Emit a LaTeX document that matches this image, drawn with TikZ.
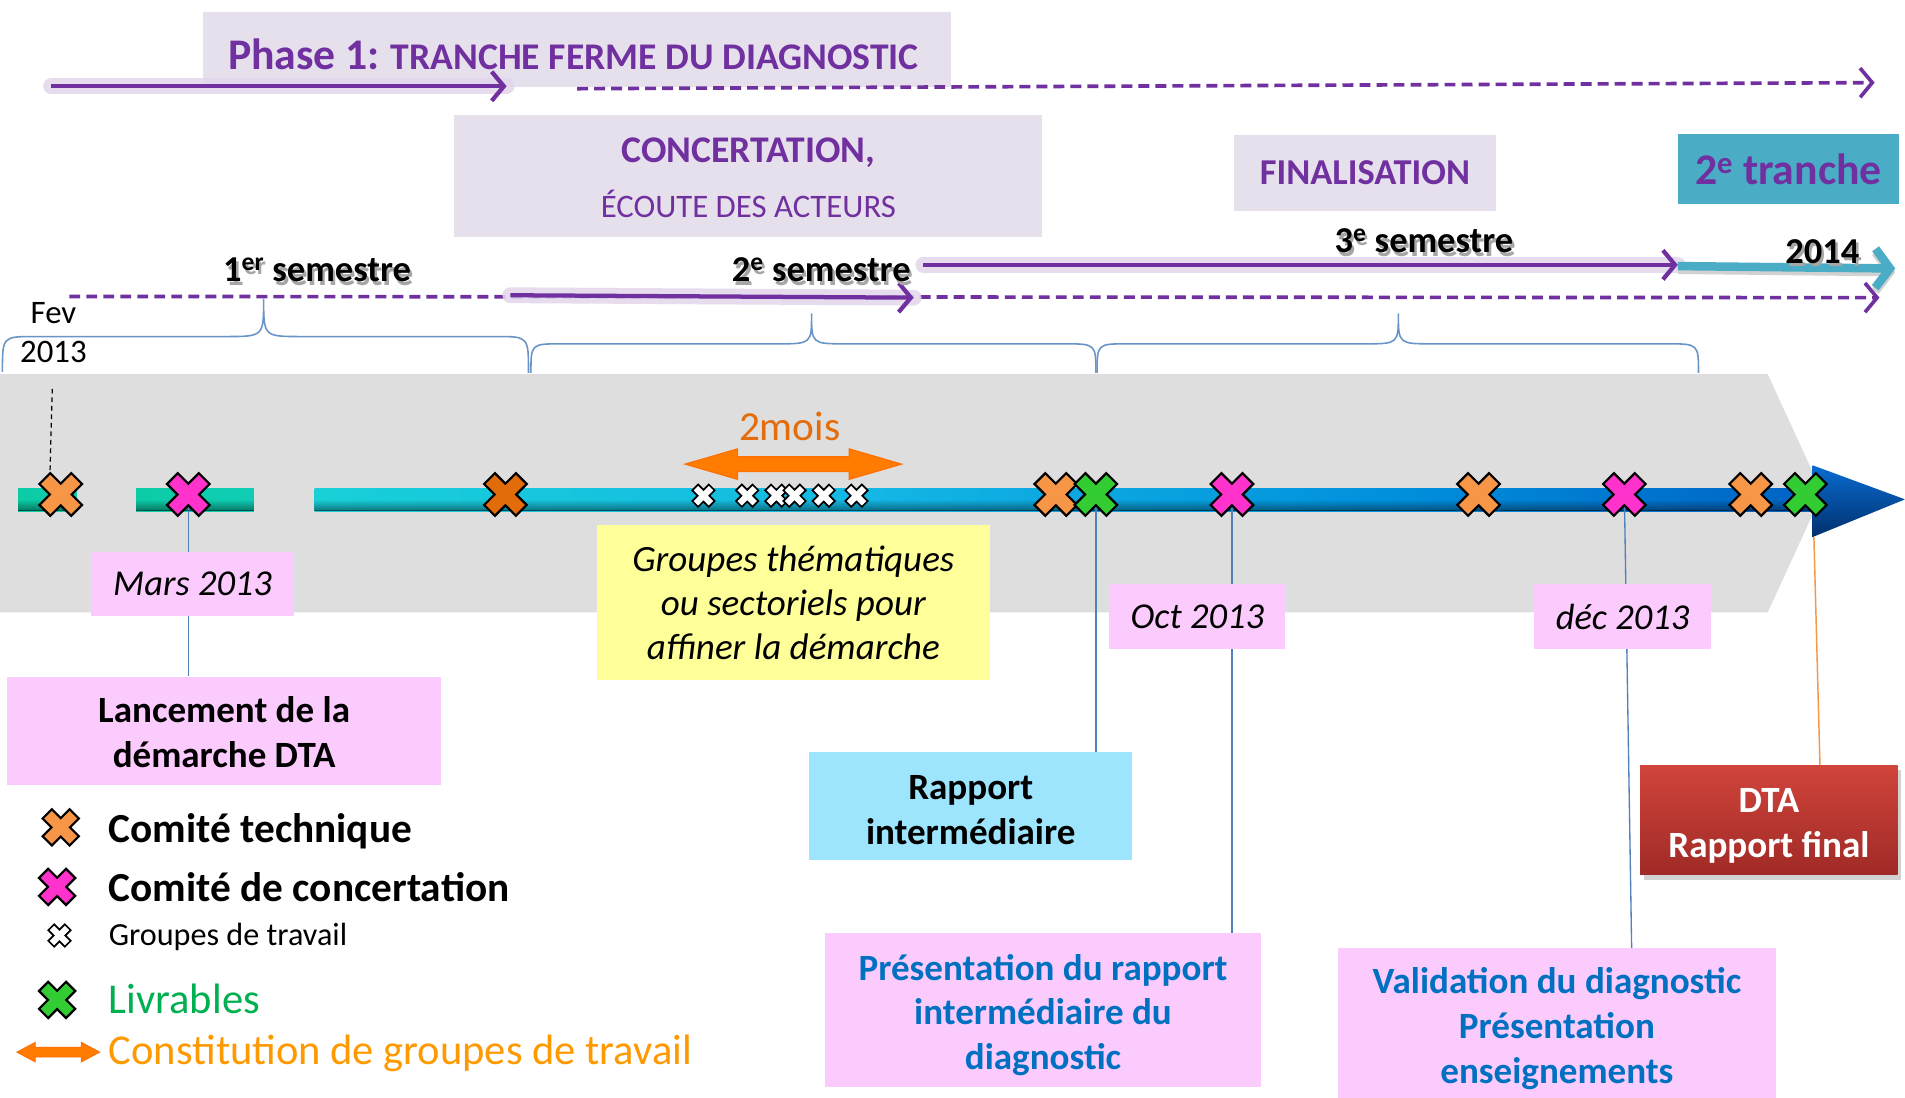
\documentclass[tikz,border=0pt]{standalone}
\usepackage{fontspec}
\setmainfont{Carlito}
\usetikzlibrary{arrows.meta,fadings,shadows}
\definecolor{purp}{HTML}{7030A0}
\definecolor{lav}{HTML}{E6E0EC}
\definecolor{tealb}{HTML}{4BACC6}
\definecolor{pinkbox}{HTML}{FCCBFD}
\definecolor{cyanbox}{HTML}{9CE5FC}
\definecolor{yelbox}{HTML}{FFFF99}
\definecolor{bluetxt}{HTML}{0070C0}
\definecolor{linkblue}{HTML}{4F81BD}
\definecolor{xorange}{HTML}{F79646}
\definecolor{xdorange}{HTML}{E26B0A}
\definecolor{xpink}{HTML}{FF33CC}
\definecolor{xgreen}{HTML}{33CC33}
\definecolor{grayband}{HTML}{DEDEDE}
\definecolor{orarrow}{HTML}{FF7C00}
\definecolor{moisor}{HTML}{E46C0A}
\definecolor{livgreen}{HTML}{00B050}
\definecolor{constor}{HTML}{FF9900}
\definecolor{dtatop}{HTML}{D0443B}
\definecolor{dtabot}{HTML}{A02A26}
\definecolor{barA}{HTML}{0CCCA6}
\definecolor{barB}{HTML}{19D0D8}
\definecolor{barC}{HTML}{14B8E4}
\definecolor{barD}{HTML}{0090DC}
\definecolor{barE}{HTML}{0062C4}
\definecolor{headtop}{HTML}{0A6CD2}
\definecolor{headmid}{HTML}{0062C4}
\definecolor{headbot}{HTML}{00306C}
\newcommand\fsz[2]{\fontsize{#1}{#2}\selectfont}
\tikzset{
  pics/bigx/.style={code={\draw[fill=#1,line width=1.8pt,line join=miter,rotate=45]
    (-6.3,-18.5) -- (6.3,-18.5) -- (6.3,-6.3) -- (18.5,-6.3) -- (18.5,6.3) -- (6.3,6.3) -- (6.3,18.5)
    -- (-6.3,18.5) -- (-6.3,6.3) -- (-18.5,6.3) -- (-18.5,-6.3) -- (-6.3,-6.3) -- cycle;}},
  pics/smallx/.style={code={\draw[fill=white,line width=1.4pt,line join=miter,rotate=45]
    (-3.4,-9.6) -- (3.4,-9.6) -- (3.4,-3.4) -- (9.6,-3.4) -- (9.6,3.4) -- (3.4,3.4) -- (3.4,9.6)
    -- (-3.4,9.6) -- (-3.4,3.4) -- (-9.6,3.4) -- (-9.6,-3.4) -- (-3.4,-3.4) -- cycle;}},
  boxn/.style={inner sep=0pt, align=center},
  glow/.style={line width=13pt, purp!20, line cap=round, opacity=.85},
  parrow/.style={purp, line width=3.5pt, -{Straight Barb[length=10pt,width=24pt]}},
  pdash/.style={purp, line width=3pt, dash pattern=on 9pt off 5pt, -{Straight Barb[length=10pt,width=24pt]}},
  link/.style={linkblue, line width=1.1pt},
  bracesty/.style={linkblue!85, line width=1.3pt},
  semi/.style={font=\fsz{30}{36}\bfseries},
  boxbold/.style={align=center, inner sep=0pt, font=\fsz{30.5}{37}\bfseries},
}
\begin{document}
\begin{tikzpicture}[x=1pt,y=-1pt]
\useasboundingbox (0,0) rectangle (1568,903);
\fill[white] (0,0) rectangle (1568,903);

% ---------- top boxes ----------
\node[boxn,fill=lav,minimum width=616pt,minimum height=62pt] (phbox) at (475,41) {};
\node[text=purp,font=\fsz{36}{40}\bfseries] (phtxt) at (472,45) {Phase 1:\hspace{-2pt} {\fsz{31}{34}TRANCHE FERME DU DIAGNOSTIC}};
\node[boxn,fill=lav,minimum width=484pt,minimum height=100pt] (conc) at (616,145) {};
\node[text=purp,font=\fsz{31}{36}\bfseries] (conct1) at (616,126) {CONCERTATION,};
\node[text=purp,font=\fsz{27}{32}] (conct2) at (616,168) {ÉCOUTE DES ACTEURS};
\node[boxn,fill=lav,minimum width=215pt,minimum height=63pt,text=purp,font=\fsz{30}{36}\bfseries] (fin) at (1123.5,142.5)
  {FINALISATION};
\node[boxn,fill=tealb,minimum width=182pt,minimum height=58pt,text=purp,font=\fsz{36}{40}\bfseries] (tr2) at (1472,139)
  {2\textsuperscript{e} tranche};

% ---------- purple arrows ----------
\coordinate (a1s) at (42,71);  \coordinate (a1e) at (417,71);
\coordinate (a2s) at (475,73); \coordinate (a2e) at (1543,68);
\coordinate (a3s) at (57,244); \coordinate (a3e) at (1547,245);
\coordinate (a4s) at (420,243);\coordinate (a4e) at (752,245);
\coordinate (a5s) at (760,218);\coordinate (a5e) at (1381,218);
\coordinate (a6s) at (1381,219);\coordinate (a6e) at (1560,221);
\draw[glow] (a1s) -- (a1e);
\draw[parrow] (a1s) -- (a1e);
\draw[pdash] (a2s) -- (a2e);
\draw[pdash] (a3s) -- (a3e);
\draw[glow] (a4s) -- (a4e);
\draw[parrow] (a4s) -- (a4e);
\draw[glow] (a5s) -- (a5e);
\draw[parrow] (a5s) -- (a5e);
\draw[black!18, line width=7pt, -{Straight Barb[length=12pt,width=32pt]}] ([yshift=-3pt]a6s) -- ([yshift=-3pt]a6e);
\draw[tealb, line width=7pt, -{Straight Barb[length=12pt,width=32pt]}] (a6s) -- (a6e);

% ---------- semester labels ----------
\node[semi,text=black!35] (s1sh) at (263,225) {1\textsuperscript{er} semestre};
\node[semi] (s1) at (261,222) {1\textsuperscript{er} semestre};
\node[semi,text=black!35] (s2sh) at (678,225) {2\textsuperscript{e} semestre};
\node[semi] (s2) at (676,222) {2\textsuperscript{e} semestre};
\node[semi,text=black!35] (s3sh) at (1174,201) {3\textsuperscript{e} semestre};
\node[semi] (s3) at (1172,198) {3\textsuperscript{e} semestre};
\node[semi,text=black!35] (y14sh) at (1502,210) {2014};
\node[semi] (y14) at (1500,207) {2014};
\node[font=\fsz{27}{32}] (fev) at (44,258) {Fev};
\node[font=\fsz{27}{32}] (fev13) at (44,290) {2013};

% ---------- braces ----------
\draw[bracesty] (2,306) .. controls (2,277) .. (28,277) -- (186,277) .. controls (217,277) .. (217,246)
  .. controls (217,277) .. (248,277) -- (409,277) .. controls (435,277) .. (435,307);
\draw[bracesty] (437,307) .. controls (437,283) .. (462,283) -- (640,283) .. controls (668,283) .. (668,258)
  .. controls (668,283) .. (696,283) -- (876,283) .. controls (902,283) .. (902,307);
\draw[bracesty] (903,307) .. controls (903,283) .. (928,283) -- (1123,283) .. controls (1151,283) .. (1151,258)
  .. controls (1151,283) .. (1179,283) -- (1372,283) .. controls (1398,283) .. (1398,307);

% ---------- gray band ----------
\fill[grayband] (0,308) -- (1455,308) -- (1500,406) -- (1455,504) -- (0,504) -- cycle;

% ---------- timeline bars ----------
\shade[left color=barA,right color=barA!85!barB] (15,402) rectangle (63,421);
\shade[left color=barA,right color=barA!70!barB] (112,402) rectangle (209,421);
\shade[left color=barB,right color=barC] (259,402) rectangle (700,421);
\shade[left color=barC,right color=barD] (699.5,402) rectangle (1150,421);
\shade[left color=barD,right color=barE] (1149.5,402) rectangle (1495,421);
\foreach \xa/\xb in {15/63,112/209,259/1495}{
  \fill[black,opacity=.45,path fading=north] (\xa,411) rectangle (\xb,421);
  \fill[black,opacity=.35] (\xa,419.5) rectangle (\xb,421);
}
\shade[top color=headtop, middle color=headmid, bottom color=headbot]
  (1492,383) -- (1568,411) -- (1492,442) -- cycle;
\coordinate (ahbase) at (1493,442);

% ---------- marker coordinates ----------
\coordinate (m1) at (50,407);
\coordinate (m2) at (155,407);
\coordinate (m3) at (416,407);
\coordinate (m4) at (869,407);
\coordinate (m5) at (902,407);
\coordinate (m6) at (1014,407);
\coordinate (m7) at (1217,407);
\coordinate (m8) at (1337,407);
\coordinate (m9) at (1441,407);
\coordinate (m10) at (1486,407);

% ---------- boxes below ----------
\node[boxn,fill=pinkbox,minimum width=357pt,minimum height=89pt] (lanc) at (184.5,601.5) {};
\node[boxbold] (lanct) at (184.5,602.5) {Lancement de la\\ démarche DTA};
\node[boxn,fill=yelbox,minimum width=324pt,minimum height=128pt,font=\fsz{30.5}{36.5}\itshape] (grp) at (653,496)
  {Groupes thématiques\\ ou sectoriels pour\\ affiner la démarche};
\node[boxn,fill=cyanbox,minimum width=266pt,minimum height=89pt] (rap) at (799,663.5) {};
\node[boxbold] (rapt) at (799,666.5) {Rapport\\ intermédiaire};
\node[boxn,fill=pinkbox,minimum width=359pt,minimum height=127pt] (pres) at (858.5,831.5) {};
\node[boxbold,text=bluetxt] (prest) at (858.5,835.5) {Présentation du rapport\\ intermédiaire du\\ diagnostic};
\node[boxn,fill=pinkbox,minimum width=361pt,minimum height=123pt] (val) at (1281.5,842) {};
\node[boxbold,text=bluetxt] (valt) at (1281.5,847) {Validation du diagnostic\\ Présentation\\ enseignements};
\node[boxn,minimum width=212pt,minimum height=90pt,top color=dtatop,bottom color=dtabot,
  drop shadow={shadow xshift=3pt,shadow yshift=-4pt,opacity=.35}] (dta) at (1456,675) {};
\node[boxbold,text=white] (dtat) at (1456,679.5) {DTA\\ Rapport final};

% ---------- connectors ----------
\draw[link] (m2) -- (m2 |- lanc.north);
\draw[link] (m5) -- (m5 |- rap.north);
\draw[link] (m6) -- (m6 |- pres.north);
\draw[link] (m8) -- ([xshift=6pt]m8 |- val.north);
\draw[xorange, line width=1.2pt] (ahbase) -- ([xshift=5pt]ahbase |- dta.north);
\coordinate (fevtop) at (43,320);
\coordinate (fevbot) at (41,395);
\draw[black, line width=1pt, dash pattern=on 4pt off 3pt] (fevtop) -- (fevbot);

% date boxes (over connectors)
\node[boxn,fill=pinkbox,minimum width=167pt,minimum height=53pt,font=\fsz{30}{36}\itshape] (mars) at (158.5,480.5)
  {Mars 2013};
\node[boxn,fill=pinkbox,minimum width=145pt,minimum height=53pt,font=\fsz{30}{36}\itshape] (oct) at (985.5,507.5)
  {Oct 2013};
\node[boxn,fill=pinkbox,minimum width=145pt,minimum height=53pt,font=\fsz{30}{36}\itshape] (dec) at (1335.5,507.5)
  {déc 2013};

% ---------- 2 mois arrow ----------
\filldraw[fill=orarrow, draw=orarrow!90!red, line width=1pt, line join=miter]
  (564,382) -- (607,369.5) -- (607,376) -- (699,376) -- (699,369.5) -- (742,382)
  -- (699,394.5) -- (699,388) -- (607,388) -- (607,394.5) -- cycle;
\node[text=moisor,font=\fsz{34}{40}] (mois) at (650,351) {2mois};

% ---------- markers ----------
\pic at (m1) {bigx=xorange};
\pic at (m2) {bigx=xpink};
\pic at (m3) {bigx=xdorange};
\pic at (m4) {bigx=xorange};
\pic at (m5) {bigx=xgreen};
\pic at (m6) {bigx=xpink};
\pic at (m7) {bigx=xorange};
\pic at (m8) {bigx=xpink};
\pic at (m9) {bigx=xorange};
\pic at (m10) {bigx=xgreen};
\foreach \gx in {579,615,639,654,678,705}{ \pic at (\gx,408) {smallx}; }

% ---------- legend ----------
\pic[scale=.85] at (50,681) {bigx=xorange};
\pic[scale=.85] at (47,730) {bigx=xpink};
\pic at (49,770) {smallx};
\pic[scale=.85] at (47,823) {bigx=xgreen};
\filldraw[fill=orarrow, draw=orarrow!90!red, line width=.8pt, line join=miter]
  (14,866) -- (29,858) -- (29,862) -- (67,862) -- (67,858) -- (82,866)
  -- (67,874) -- (67,870) -- (29,870) -- (29,874) -- cycle;
\node[anchor=west,font=\fsz{34}{38}\bfseries] (lg1) at (86,684) {Comité technique};
\node[anchor=west,font=\fsz{34}{38}\bfseries] (lg2) at (86,730) {Comité de concertation};
\node[anchor=west,font=\fsz{26.5}{30}] (lg3) at (86,771) {Groupes de travail};
\node[anchor=west,font=\fsz{35}{38},text=livgreen] (lg4) at (86,822) {Livrables};
\node[anchor=west,font=\fsz{35}{38},text=constor] (lg5) at (86,867) {Constitution de groupes de travail};
\end{tikzpicture}
\end{document}
